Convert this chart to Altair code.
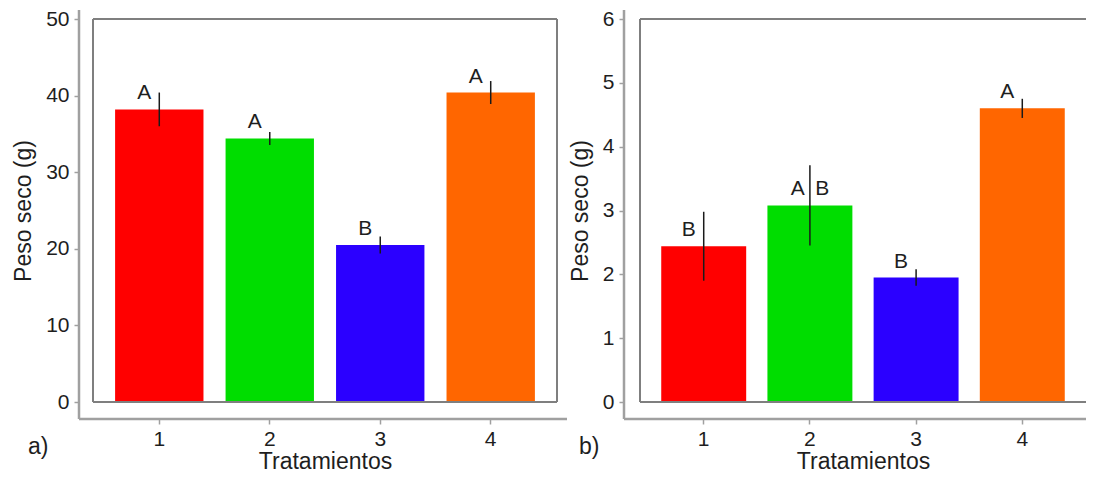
import pandas as pd
import altair as alt

# --- datos ---
tratamientos = ["1", "2", "3", "4"]
colores = ["#FF0000", "#00DD00", "#2B00FF", "#FF6600"]

peso_a = [38.2, 34.4, 20.5, 40.4]
error_a = [2.2, 0.85, 1.1, 1.5]
letras_a = ["A", "A", "B", "A"]

peso_b = [2.44, 3.08, 1.95, 4.60]
error_b = [0.54, 0.63, 0.13, 0.15]
letras_b = ["B", "A\u2002B", "B", "A"]

FONT = "Liberation Sans"
H = 383
TXT = "#1e1e1e"
GRIS_EJE = "#a0a0a0"
GRIS_CAJA = "#7f7f7f"


def panel(peso, error, letras, ticks_y, W, etiqueta, pos_etiqueta, off_y, extra_x, lado_der):
    df = pd.DataFrame({"Tratamiento": tratamientos, "peso": peso,
                       "error": error, "letra": letras})
    df["lo"] = df["peso"] - df["error"]
    df["hi"] = df["peso"] + df["error"]

    x = alt.X("Tratamiento:N", sort=tratamientos,
              scale=alt.Scale(paddingInner=0.2, paddingOuter=0.2),
              axis=alt.Axis(title="Tratamientos", labelAngle=0, offset=17,
                            domain=False, ticks=True, tickSize=5,
                            tickColor=GRIS_EJE, tickWidth=1.5,
                            labelPadding=4, titlePadding=1))
    y_scale = alt.Scale(domain=[ticks_y[0], ticks_y[-1]], nice=False)

    barras = alt.Chart(df).mark_bar().encode(
        x=x,
        y=alt.Y("peso:Q", scale=y_scale,
                axis=alt.Axis(title="Peso seco (g)", values=ticks_y, format="d",
                              offset=off_y, domain=False, grid=False,
                              tickSize=5, tickColor=GRIS_EJE, tickWidth=1.5,
                              labelPadding=5, titlePadding=10)),
        color=alt.Color("Tratamiento:N",
                        scale=alt.Scale(domain=tratamientos, range=colores),
                        legend=None),
    )

    errores = alt.Chart(df).mark_rule(color="#1a1a1a", strokeWidth=1.5).encode(
        x=alt.X("Tratamiento:N", sort=tratamientos),
        y=alt.Y("lo:Q", scale=y_scale),
        y2="hi:Q",
    )

    texto_kw = dict(font=FONT, fontSize=21, color=TXT, baseline="middle", dy=-16)
    letras_simples = alt.Chart(df).transform_filter(
        "length(datum.letra) == 1"
    ).mark_text(dx=-15, **texto_kw).encode(
        x=alt.X("Tratamiento:N", sort=tratamientos),
        y=alt.Y("peso:Q", scale=y_scale),
        text="letra:N",
    )
    letras_dobles = alt.Chart(df).transform_filter(
        "length(datum.letra) > 1"
    ).mark_text(dx=0, **texto_kw).encode(
        x=alt.X("Tratamiento:N", sort=tratamientos),
        y=alt.Y("peso:Q", scale=y_scale),
        text="letra:N",
    )

    uno = pd.DataFrame({"k": [0]})
    # marco del panel (sin lado derecho en el panel b, que queda cortado)
    caja = [
        alt.Chart(uno).mark_rule(color=GRIS_CAJA, strokeWidth=2).encode(
            x=alt.value(0), x2=alt.value(W), y=alt.value(0)),
        alt.Chart(uno).mark_rule(color=GRIS_CAJA, strokeWidth=2).encode(
            x=alt.value(0), x2=alt.value(W), y=alt.value(H)),
        alt.Chart(uno).mark_rule(color=GRIS_CAJA, strokeWidth=2).encode(
            x=alt.value(0), y=alt.value(0), y2=alt.value(H)),
    ]
    if lado_der:
        caja.append(alt.Chart(uno).mark_rule(color=GRIS_CAJA, strokeWidth=2).encode(
            x=alt.value(W), y=alt.value(0), y2=alt.value(H)))

    eje_y = alt.Chart(uno).mark_rule(color=GRIS_EJE, strokeWidth=2.5).encode(
        x=alt.value(-off_y), y=alt.value(-9), y2=alt.value(H + 17)
    )
    eje_x = alt.Chart(uno).mark_rule(color=GRIS_EJE, strokeWidth=2.5).encode(
        x=alt.value(-off_y), x2=alt.value(W + extra_x), y=alt.value(H + 17)
    )
    rotulo = alt.Chart(uno).mark_text(
        font=FONT, fontSize=23, color=TXT, align="left", baseline="middle"
    ).encode(x=alt.value(pos_etiqueta), y=alt.value(H + 45), text=alt.value(etiqueta))

    return alt.layer(barras, errores, letras_simples, letras_dobles,
                     *caja, eje_y, eje_x, rotulo).properties(width=W, height=H)


izq = panel(peso_a, error_a, letras_a, [0, 10, 20, 30, 40, 50], 464, "a)", -65, 14, 10, True)
der = panel(peso_b, error_b, letras_b, [0, 1, 2, 3, 4, 5, 6], 446, "b)", -61, 16, 0, False)

chart = alt.hconcat(izq, der, spacing=0).resolve_scale(
    y="independent", color="independent"
).properties(
    padding={"left": 4, "top": 0, "right": 0, "bottom": 0},
    background="#ffffff"
).configure_view(
    stroke=None
).configure_axis(
    labelFont=FONT, titleFont=FONT, labelFontSize=21, titleFontSize=23,
    labelColor=TXT, titleColor=TXT, titleFontWeight="normal"
)

chart.save("out.html", embed_options={"renderer": "svg", "actions": False})
